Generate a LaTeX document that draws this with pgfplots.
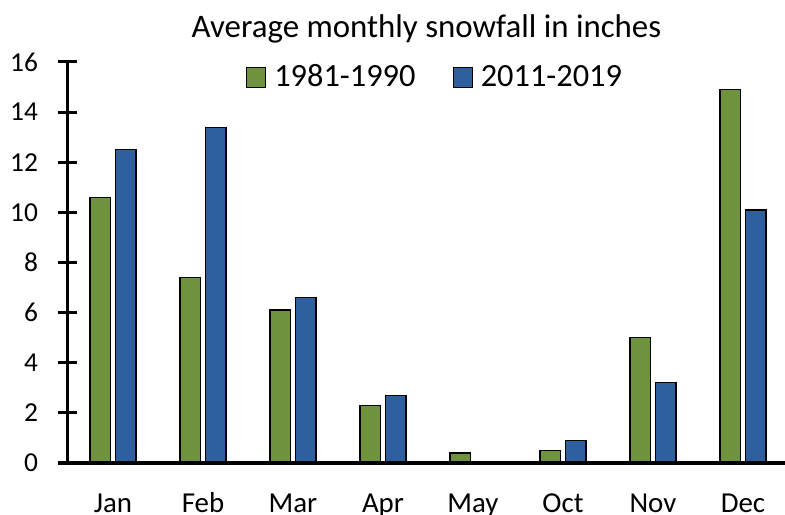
\documentclass[border=0pt]{standalone}
\usepackage{fontspec}
\setmainfont{Carlito}
\usepackage{pgfplots}
\usepackage{pgfplotstable}
\pgfplotsset{compat=1.18}
\definecolor{cgreen}{RGB}{110,146,62}
\definecolor{cblue}{RGB}{46,96,160}
\pgfplotstableread{
x g b
0 10.6 12.5
1 7.4 13.4
2 6.1 6.6
3 2.3 2.7
4 0.4 0
5 0.5 0.9
6 5.0 3.2
7 14.9 10.1
}\snow
\begin{document}
\begin{tikzpicture}
\useasboundingbox (-68bp,-52bp) rectangle (717bp,463bp);
\begin{axis}[
  scale only axis, width=717bp, height=401bp,
  ybar=5bp, bar width=20.5bp,
  xmin=-0.5, xmax=7.467, ymin=0, ymax=16,
  axis x line*=bottom, axis y line*=left,
  axis line style={line width=3bp, -, black},
  x axis line style={line width=3bp, -, black},
  y axis line style={line width=3bp, -, black},
  axis on top,
  xtick={0,...,7},
  xticklabels={Jan,Feb,Mar,Apr,May,Oct,Nov,Dec},
  ytick={0,2,...,16},
  tick align=center, major tick length=19bp,
  major tick style={line width=3bp, black},
  ytick style={line width=3bp, black},
  xtick style={draw=none},
  /pgf/number format/assume math mode=true,
  yticklabel style={font=\fontsize{27.5}{32}\selectfont, anchor=east, xshift=-17bp},
  xticklabel style={font=\fontsize{29}{34}\selectfont, anchor=base, yshift=-40bp},
  title={Average monthly snowfall in inches},
  title style={font=\fontsize{33}{38}\selectfont, at={(0.5,1)}, anchor=base, yshift=19bp},
  legend columns=2,
  legend style={at={(0.5105,0.964)}, anchor=center, draw=none, fill=none,
    font=\fontsize{32.5}{38}\selectfont,
    nodes={inner sep=0pt},
    /tikz/every even column/.append style={column sep=37bp},
    /tikz/every odd column/.append style={column sep=8bp}},
  legend image code/.code={\draw[#1, line width=1.3bp] (0bp,-11.5bp) rectangle (19bp,9bp);},
]
\addplot[fill=cgreen, draw=black, line width=1.3bp] table[x=x, y=g] {\snow};
\addplot[fill=cblue, draw=black, line width=1.3bp] table[x=x, y=b] {\snow};
\legend{1981-1990, 2011-2019}
\end{axis}
\end{tikzpicture}
\end{document}
